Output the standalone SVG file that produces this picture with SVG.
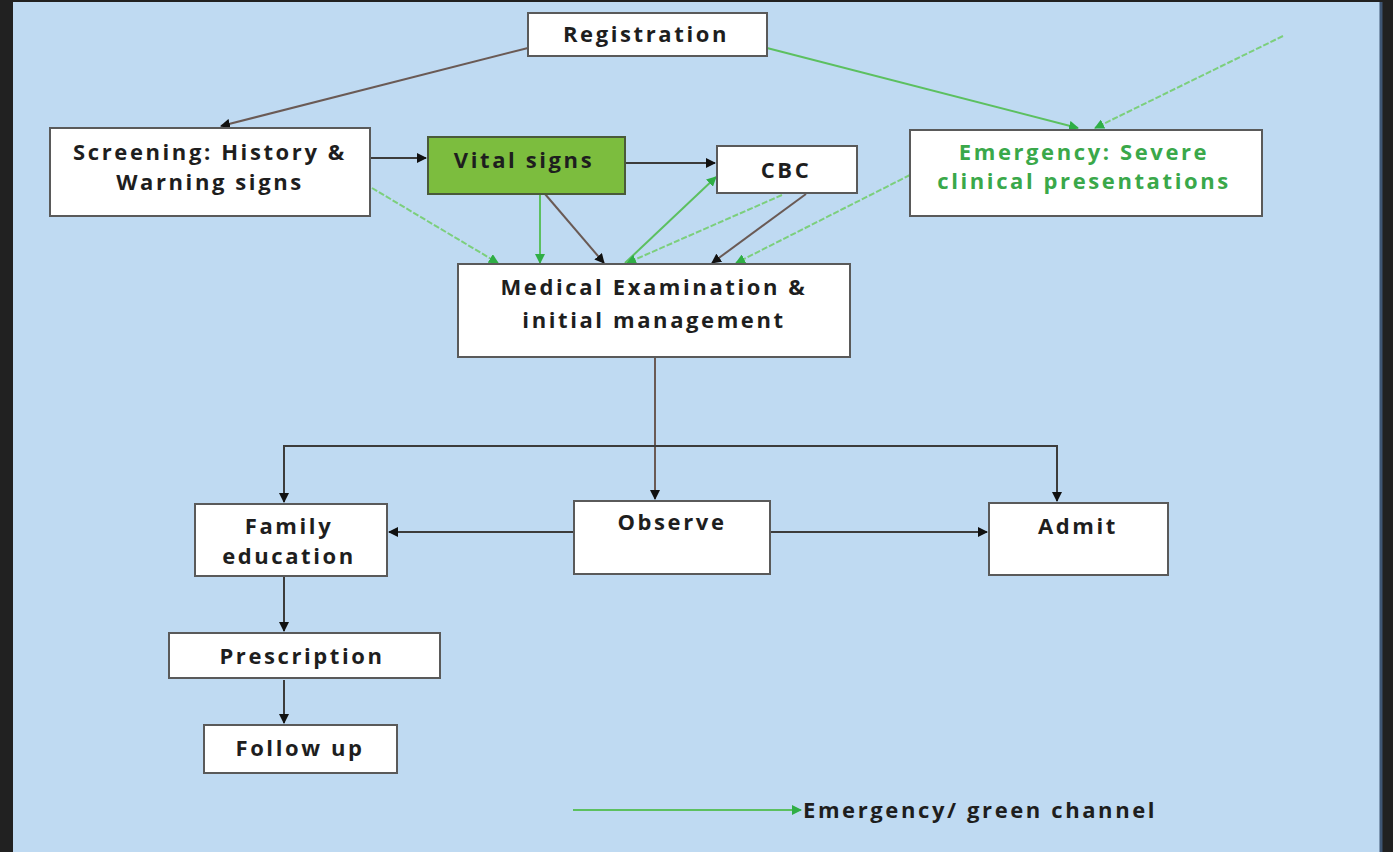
<svg xmlns="http://www.w3.org/2000/svg" width="1393" height="852" viewBox="0 0 1393 852">
<defs>
<style>
.box{fill:#ffffff;stroke:#5a5a5a;stroke-width:2}
.t{font-family:"Open Sans",Lato,sans-serif;font-weight:bold;font-size:22px;fill:#1e1e1e;text-anchor:middle;letter-spacing:2.6px}
.g{fill:#3aa84a}
.k{fill:none;stroke:#3c3c3c;stroke-width:2}
.kb{fill:none;stroke:#6a5a55;stroke-width:2}
.gr{fill:none;stroke:#5cc060;stroke-width:2}
.grd{fill:none;stroke:#7ccf7c;stroke-width:2;stroke-dasharray:6 2}
</style>
<marker id="ak" viewBox="0 0 10 10" refX="9" refY="5" markerWidth="5" markerHeight="5" orient="auto" markerUnits="strokeWidth"><path d="M0,0 L10,5 L0,10 z" fill="#111"/></marker>
<marker id="ag" viewBox="0 0 10 10" refX="9" refY="5" markerWidth="5" markerHeight="5" orient="auto" markerUnits="strokeWidth"><path d="M0,0 L10,5 L0,10 z" fill="#2fae45"/></marker>
</defs>
<rect x="0" y="0" width="1393" height="852" fill="#212121"/>
<rect x="13" y="2" width="1367" height="850" fill="#bfdaf2"/>
<line x1="1381" y1="2" x2="1381" y2="852" stroke="#3e5573" stroke-width="3"/>

<g id="connectors">
<line class="kb" x1="528" y1="48" x2="221" y2="126" marker-end="url(#ak)"/>
<line class="gr" x1="767" y1="48" x2="1078" y2="128" marker-end="url(#ag)"/>
<line class="grd" x1="1283" y1="36" x2="1095" y2="128" marker-end="url(#ag)"/>
<line class="k" x1="370" y1="158" x2="426" y2="158" marker-end="url(#ak)"/>
<line class="k" x1="626" y1="163" x2="715" y2="163" marker-end="url(#ak)"/>
<line class="grd" x1="372" y1="188" x2="498" y2="263" marker-end="url(#ag)"/>
<line class="gr" x1="540" y1="194" x2="540" y2="263" marker-end="url(#ag)"/>
<line class="kb" x1="545" y1="194" x2="604" y2="263" marker-end="url(#ak)"/>
<line class="gr" x1="625" y1="263" x2="716" y2="177" marker-end="url(#ag)"/>
<line class="grd" x1="782" y1="195" x2="627" y2="263" marker-end="url(#ag)"/>
<line class="kb" x1="806" y1="194" x2="712" y2="263" marker-end="url(#ak)"/>
<line class="grd" x1="910" y1="175" x2="736" y2="263" marker-end="url(#ag)"/>
<line class="kb" x1="655" y1="358" x2="655" y2="499" marker-end="url(#ak)"/>
<polyline class="k" points="284,446 1057,446 1057,501" marker-end="url(#ak)"/>
<line class="k" x1="284" y1="445" x2="284" y2="502" marker-end="url(#ak)"/>
<line class="k" x1="574" y1="532" x2="389" y2="532" marker-end="url(#ak)"/>
<line class="k" x1="770" y1="532" x2="987" y2="532" marker-end="url(#ak)"/>
<line class="k" x1="284" y1="577" x2="284" y2="631" marker-end="url(#ak)"/>
<line class="k" x1="284" y1="680" x2="284" y2="723" marker-end="url(#ak)"/>
<line class="gr" x1="573" y1="810" x2="801" y2="810" marker-end="url(#ag)"/>
</g>

<g id="registration"><rect class="box" x="528" y="13" width="239" height="43"/><text class="t" x="646" y="42">Registration</text></g>
<g id="screening"><rect class="box" x="50" y="128" width="320" height="88"/><text class="t" x="210" y="160">Screening: History &amp;</text><text class="t" x="210" y="190">Warning signs</text></g>
<g id="vital-signs"><rect x="428" y="137" width="197" height="57" fill="#7cbd3e" stroke="#4a5a3a" stroke-width="2"/><text class="t" x="524" y="168">Vital signs</text></g>
<g id="cbc"><rect class="box" x="717" y="146" width="140" height="47"/><text class="t" x="786" y="178">CBC</text></g>
<g id="emergency"><rect class="box" x="910" y="130" width="352" height="86"/><text class="t g" x="1084" y="160">Emergency: Severe</text><text class="t g" x="1084" y="189">clinical presentations</text></g>
<g id="medical"><rect class="box" x="458" y="264" width="392" height="93"/><text class="t" x="654" y="295">Medical Examination &amp;</text><text class="t" x="654" y="328">initial management</text></g>
<g id="family"><rect class="box" x="195" y="504" width="192" height="72"/><text class="t" x="289" y="534">Family</text><text class="t" x="289" y="564">education</text></g>
<g id="observe"><rect class="box" x="574" y="501" width="196" height="73"/><text class="t" x="672" y="530">Observe</text></g>
<g id="admit"><rect class="box" x="989" y="503" width="179" height="72"/><text class="t" x="1078" y="534">Admit</text></g>
<g id="prescription"><rect class="box" x="169" y="633" width="271" height="45"/><text class="t" x="302" y="664">Prescription</text></g>
<g id="followup"><rect class="box" x="204" y="725" width="193" height="48"/><text class="t" x="300" y="756">Follow up</text></g>
<g id="legend"><text class="t" x="803" y="818" style="text-anchor:start">Emergency/ green channel</text></g>
</svg>
